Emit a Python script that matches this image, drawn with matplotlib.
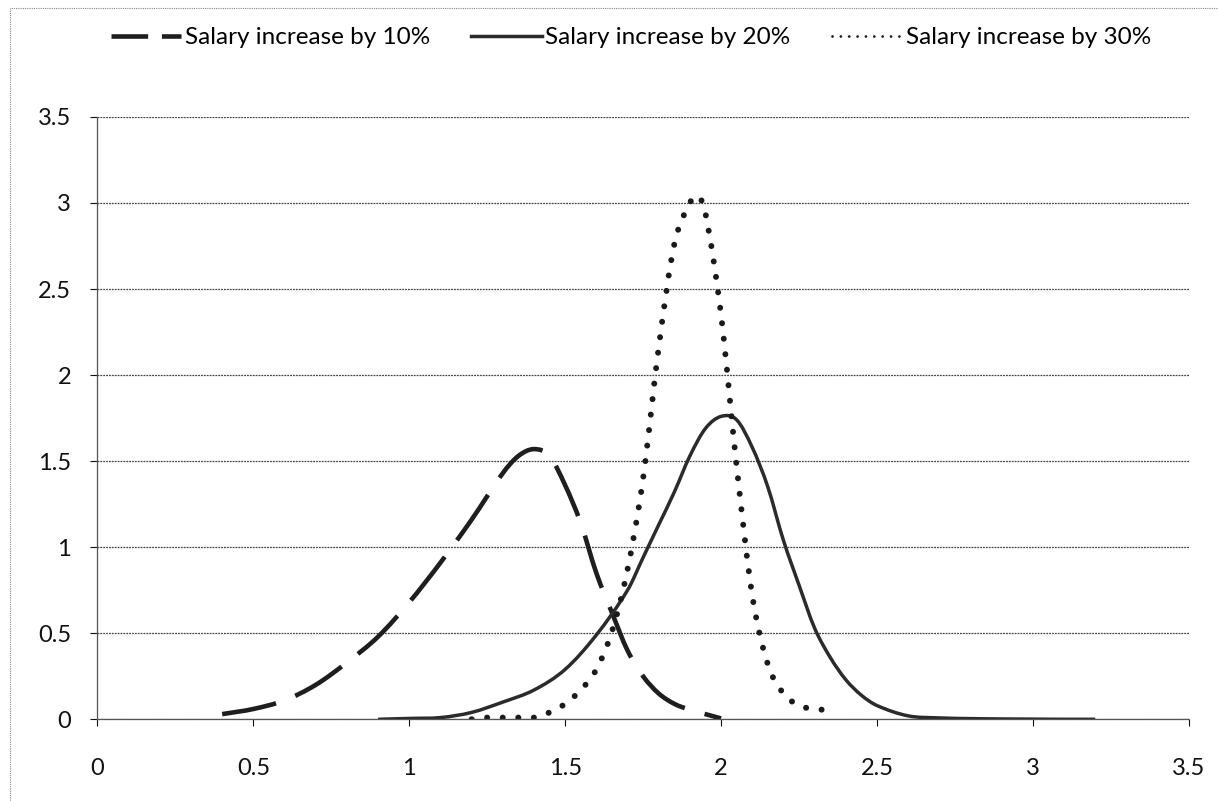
import matplotlib.pyplot as plt
import numpy as np
from matplotlib.lines import Line2D
from matplotlib.patches import PathPatch, Rectangle
from matplotlib.path import Path

plt.rcParams['font.family'] = ['Lato', 'DejaVu Sans']

# values
x_10 = [0.40, 0.50, 0.60, 0.70, 0.80, 0.90, 1.00, 1.10, 1.20, 1.30, 1.35, 1.40,
        1.45, 1.50, 1.55, 1.60, 1.65, 1.70, 1.75, 1.80, 1.85, 1.90, 1.95, 2.00]
y_10 = [0.03, 0.06, 0.11, 0.20, 0.33, 0.48, 0.68, 0.91, 1.16, 1.43, 1.53, 1.57,
        1.53, 1.36, 1.14, 0.85, 0.62, 0.40, 0.25, 0.15, 0.09, 0.055, 0.03, 0.005]

x_20 = [0.90, 1.00, 1.10, 1.20, 1.30, 1.40, 1.50, 1.60, 1.70, 1.75, 1.80, 1.85,
        1.90, 1.95, 2.00, 2.05, 2.10, 2.15, 2.20, 2.25, 2.30, 2.35, 2.40, 2.45,
        2.50, 2.60, 2.70, 2.80, 2.90, 3.00, 3.10, 3.20]
y_20 = [0.0, 0.005, 0.01, 0.04, 0.10, 0.17, 0.29, 0.49, 0.75, 0.94, 1.13, 1.32,
        1.53, 1.69, 1.76, 1.74, 1.58, 1.35, 1.04, 0.78, 0.53, 0.36, 0.23, 0.14,
        0.08, 0.02, 0.008, 0.004, 0.002, 0.001, 0.0, 0.0]

x_30 = [1.20, 1.25, 1.30, 1.35, 1.40, 1.45, 1.50, 1.55, 1.60, 1.65, 1.70, 1.75,
        1.80, 1.85, 1.90, 1.925, 1.95, 2.00, 2.05, 2.10, 2.15, 2.20, 2.25, 2.30,
        2.37]
y_30 = [0.0, 0.01, 0.01, 0.01, 0.01, 0.04, 0.09, 0.17, 0.29, 0.51, 0.87, 1.40,
        2.16, 2.76, 3.00, 3.04, 2.94, 2.35, 1.47, 0.72, 0.32, 0.15, 0.08, 0.06,
        0.05]

labels = ['Salary increase by 10%', 'Salary increase by 20%', 'Salary increase by 30%']


def smooth_path(xs, ys):
    # smoothed line through the points, like Excel's "smoothed line" option
    pts = np.column_stack([xs, ys]).astype(float)
    n = len(pts)
    tang = np.zeros_like(pts)
    for i in range(n):
        a = pts[max(i - 1, 0)]
        b = pts[min(i + 1, n - 1)]
        tang[i] = (b - a) / (b[0] - a[0])
    verts = [pts[0]]
    codes = [Path.MOVETO]
    for i in range(n - 1):
        h = pts[i + 1][0] - pts[i][0]
        verts += [pts[i] + tang[i] * h / 3, pts[i + 1] - tang[i + 1] * h / 3, pts[i + 1]]
        codes += [Path.CURVE4] * 3
    return Path(verts, codes)


fig = plt.figure(figsize=(12.18, 8.01), dpi=100)
ax = fig.add_axes([0.080, 0.102, 0.896, 0.752])

dash_style = dict(color='#1e1e1e', lw=3.3, linestyle=(0, (12, 4.5)))
solid_style = dict(color='#2b2b2b', lw=2.5, linestyle='-')
dot_style = dict(color='#1a1a1a', lw=4.3, linestyle=(0, (0.01, 2.6)), capstyle='round')

ax.add_patch(PathPatch(smooth_path(x_10, y_10), fill=False, **dash_style))
ax.add_patch(PathPatch(smooth_path(x_20, y_20), fill=False, **solid_style))
ax.add_patch(PathPatch(smooth_path(x_30, y_30), fill=False, **dot_style))

handles = [
    Line2D([], [], color='#1e1e1e', lw=3.3, linestyle=(0, (8, 3))),
    Line2D([], [], color='#2b2b2b', lw=2.5),
    Line2D([], [], color='#1a1a1a', lw=2.0, linestyle=(0, (0.01, 3.0)),
           dash_capstyle='round'),
]

ax.set_xlim(0, 3.5)
ax.set_ylim(0, 3.5)
ticks = [0, 0.5, 1, 1.5, 2, 2.5, 3, 3.5]
tick_text = ['0', '0.5', '1', '1.5', '2', '2.5', '3', '3.5']
ax.set_xticks(ticks)
ax.set_yticks(ticks)
ax.set_xticklabels(tick_text)
ax.set_yticklabels(tick_text)
ax.tick_params(axis='both', labelsize=17, colors='#111111', length=5, width=0.8,
               direction='out')
ax.tick_params(axis='x', pad=23)
ax.tick_params(axis='y', pad=14)

ax.grid(axis='y', color='#444444', lw=0.9, linestyle=(0, (1.5, 0.8)))
ax.set_axisbelow(True)
for side in ['top', 'right']:
    ax.spines[side].set_visible(False)
for side in ['left', 'bottom']:
    ax.spines[side].set_color('#555555')
    ax.spines[side].set_linewidth(0.9)
    ax.spines[side].set_linestyle((0, (1.5, 0.8)))

fig.legend(handles, labels, loc='center', bbox_to_anchor=(0.518, 0.953), ncol=3,
           frameon=False, fontsize=17.5, handlelength=2.9, handletextpad=0.15,
           columnspacing=1.7)

# scanned chart-area border
fig.patches.append(Rectangle((0.008, -0.01), 1.0, 1.0, transform=fig.transFigure,
                             fill=False, edgecolor='#888888', lw=0.8,
                             linestyle=(0, (1, 1))))

fig.savefig('out.png', dpi=100, facecolor='white')
